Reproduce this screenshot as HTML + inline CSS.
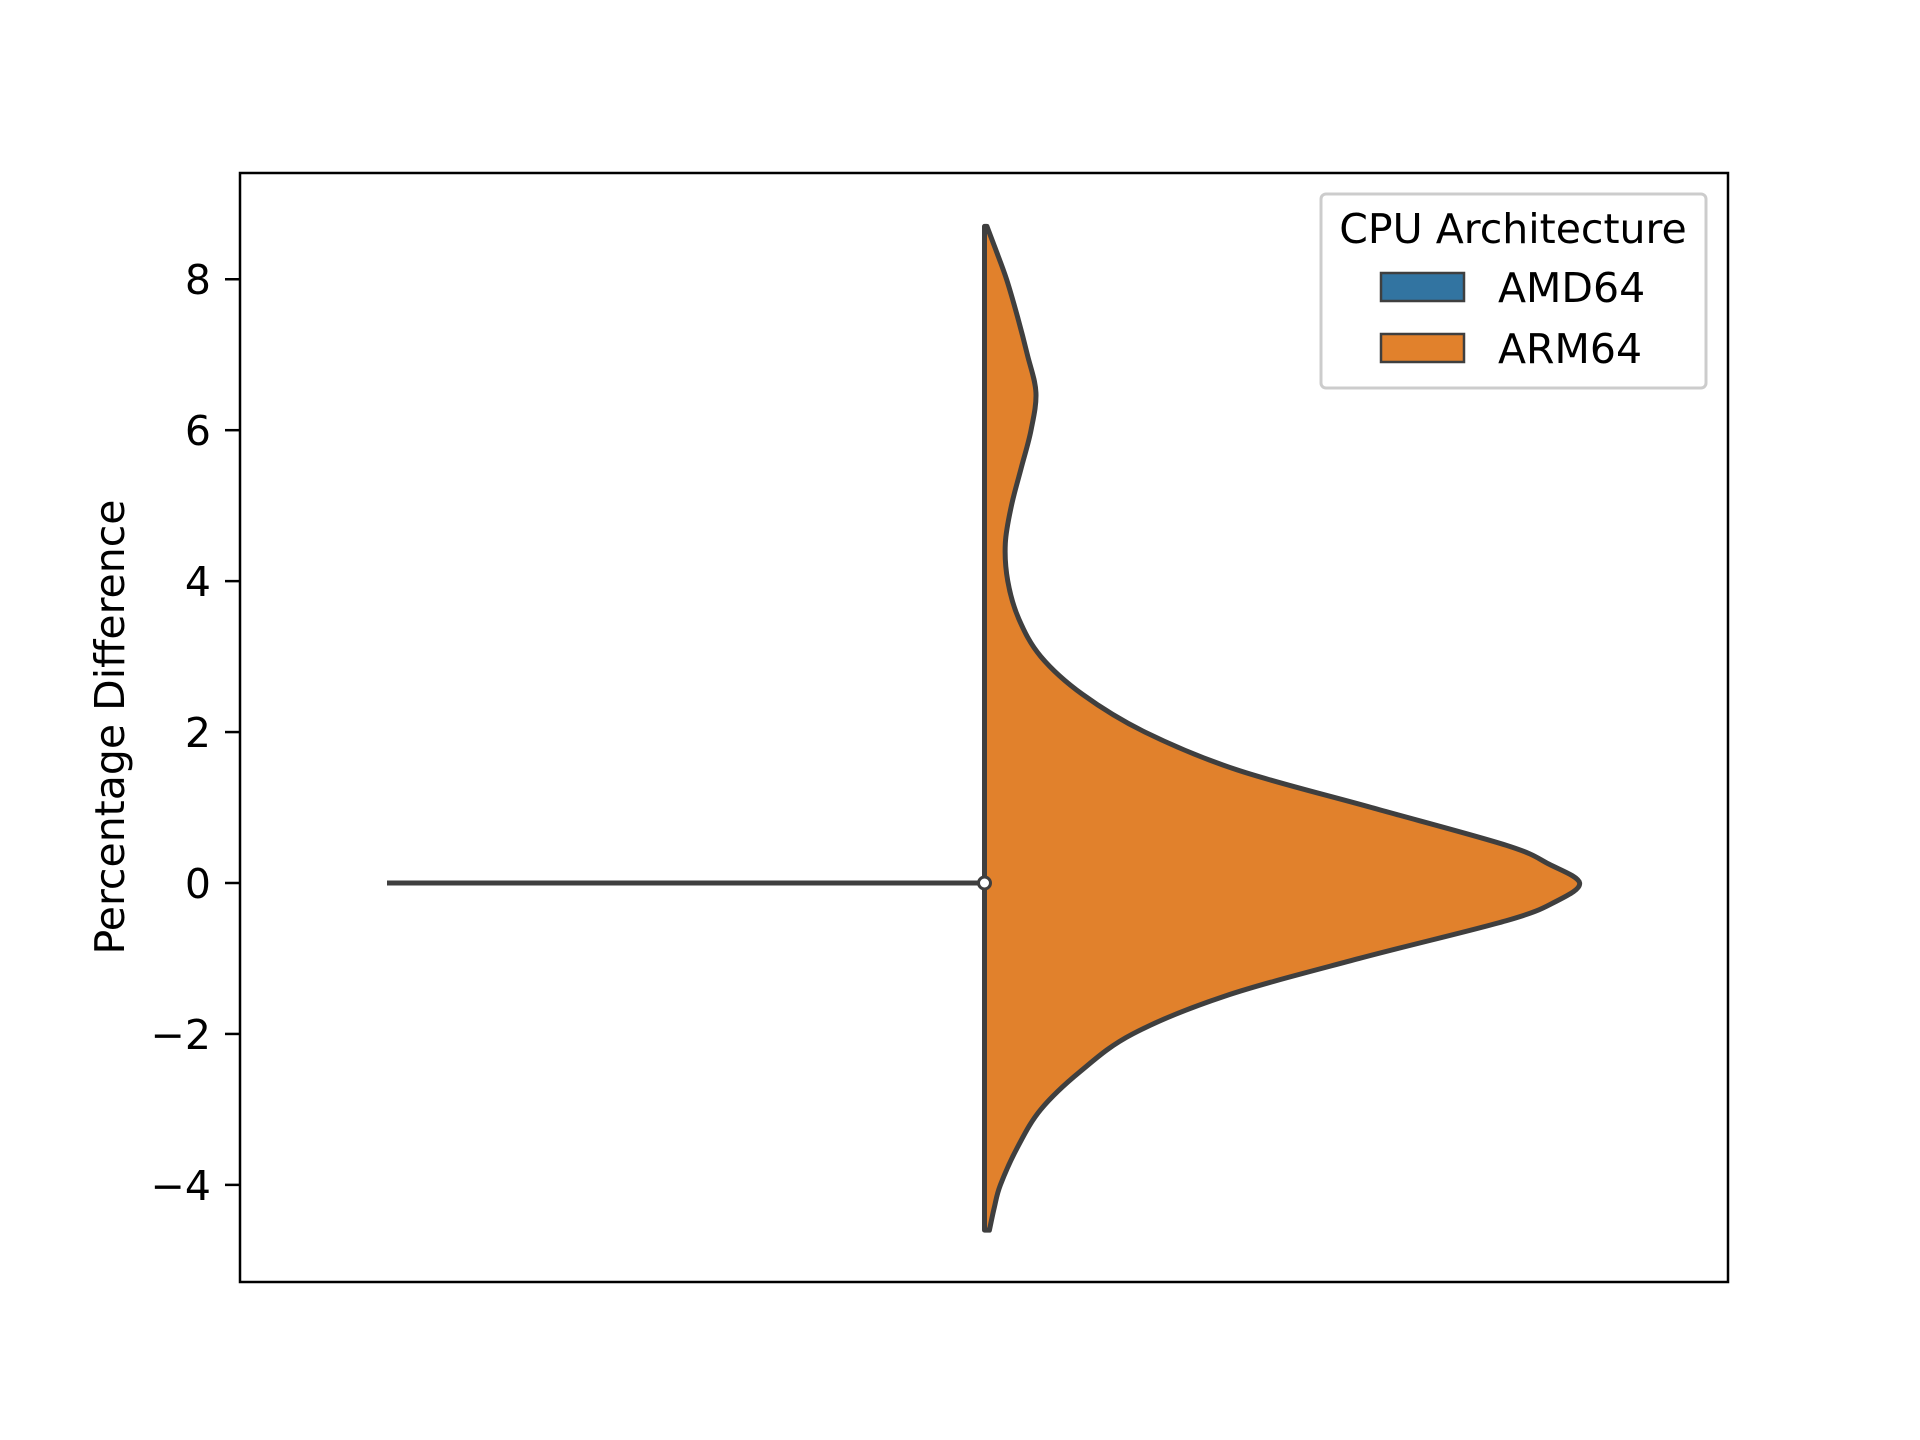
<!DOCTYPE html>
<html><head><meta charset="utf-8"><style>
body{margin:0;background:#fff}
svg{display:block;font-family:"DejaVu Sans","Liberation Sans",sans-serif}
</style></head><body>
<svg id="chart" width="1920" height="1440" viewBox="0 0 1920 1440">
<rect x="0" y="0" width="1920" height="1440" fill="#fff"/>
<g id="plot"></g>
<rect x="240" y="173" width="1488" height="1109" fill="none" stroke="#000" stroke-width="2.5"/>
<g id="yticks"></g>
<text x="124" y="727" font-size="41" text-anchor="middle" transform="rotate(-90 124 727)">Percentage Difference</text>
<g>
<rect x="1321" y="194" width="385" height="194" rx="5" fill="#fff" fill-opacity="0.8" stroke="#ccc" stroke-width="3"/>
<text x="1513" y="243" font-size="41" text-anchor="middle">CPU Architecture</text>
<g>
<rect x="1381" y="273" width="83" height="28" fill="#3274a1" stroke="#3f3f3f" stroke-width="2.5"/>
<text x="1498" y="302" font-size="41">AMD64</text></g>
<g>
<rect x="1381" y="334" width="83" height="28" fill="#e1812c" stroke="#3f3f3f" stroke-width="2.5"/>
<text x="1498" y="363" font-size="41">ARM64</text></g>
</g>
</svg>
<script>
const yTicks=[-4,-2,0,2,4,6,8];
const yTickLabels=["\u22124","\u22122","0","2","4","6","8"];
const densY=[8.7,8.4,8,7.5,7,6.5,6,5.5,5,4.5,4,3.5,3,2.5,2,1.5,1,0.5,0.25,0,-0.25,-0.5,-1,-1.5,-2,-2.5,-3,-3.5,-4,-4.3,-4.6];
const densW=[2,9,18,27,35,42,38,30,22,17,19,28,46,80,131,206,316,426,461,486,466,426,306,196,121,78,46,27,13,8,4];
const amdValues=[0];
const armMedian=0;
const f=1.2245;
const Y=v=>883-v*75.47;
const cx=984.5;
const NS="http://www.w3.org/2000/svg";
const plot=document.getElementById('plot');
const yt=document.getElementById('yticks');
yTicks.forEach((t,i)=>{
 const l=document.createElementNS(NS,'line');
 l.setAttribute('x1',225);l.setAttribute('x2',240);l.setAttribute('y1',Y(t));l.setAttribute('y2',Y(t));
 l.setAttribute('stroke','#000');l.setAttribute('stroke-width','2.5');
 
 
 yt.appendChild(l);
 const tx=document.createElementNS(NS,'text');
 tx.setAttribute('x',211);tx.setAttribute('y',Y(t)+15);tx.setAttribute('font-size','41');tx.setAttribute('text-anchor','end');
 tx.textContent=yTickLabels[i];
 
 
 yt.appendChild(tx);
});
const pts=densY.map((y,i)=>[cx+densW[i]*f,Y(y)]);
let d=`M${cx},${pts[0][1]} L${pts[0][0]},${pts[0][1]}`;
for(let i=0;i<pts.length-1;i++){
 const p0=pts[Math.max(0,i-1)],p1=pts[i],p2=pts[i+1],p3=pts[Math.min(pts.length-1,i+2)];
 const c1=[p1[0]+(p2[0]-p0[0])/6,p1[1]+(p2[1]-p0[1])/6];
 const c2=[p2[0]-(p3[0]-p1[0])/6,p2[1]-(p3[1]-p1[1])/6];
 d+=` C${c1[0]},${c1[1]} ${c2[0]},${c2[1]} ${p2[0]},${p2[1]}`;
}
d+=` L${cx},${pts[pts.length-1][1]} Z`;
const v=document.createElementNS(NS,'path');
v.setAttribute('d',d);v.setAttribute('fill','#e1812c');v.setAttribute('stroke','#3f3f3f');v.setAttribute('stroke-width','5');v.setAttribute('stroke-linejoin','round');


plot.appendChild(v);
amdValues.forEach(a=>{
 const l=document.createElementNS(NS,'line');
 l.setAttribute('x1',387);l.setAttribute('x2',cx);l.setAttribute('y1',Y(a));l.setAttribute('y2',Y(a));
 l.setAttribute('stroke','#3f3f3f');l.setAttribute('stroke-width','5');
 
 
 plot.appendChild(l);
});
const m=document.createElementNS(NS,'circle');
m.setAttribute('cx',cx);m.setAttribute('cy',Y(armMedian));m.setAttribute('r',6);
m.setAttribute('fill','#fff');m.setAttribute('stroke','#3f3f3f');m.setAttribute('stroke-width','3');


plot.appendChild(m);
</script>
</body></html>
